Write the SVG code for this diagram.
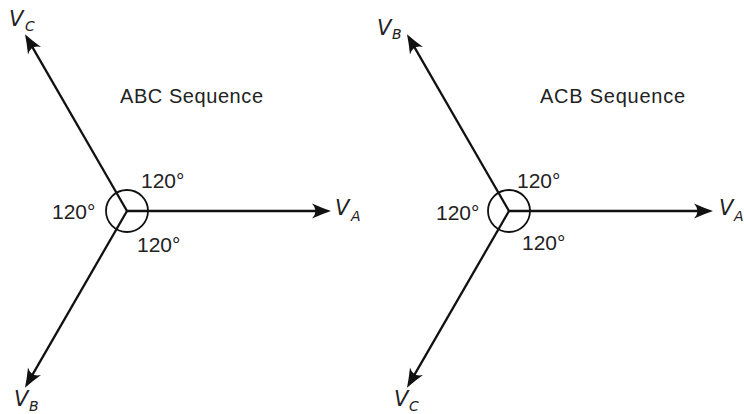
<svg xmlns="http://www.w3.org/2000/svg" width="744" height="414" viewBox="0 0 744 414">
<style>
.ln{stroke:#111;stroke-width:2.3;fill:none}
.ring{stroke:#111;stroke-width:1.8;fill:none}
.v{font-family:"DejaVu Sans","Liberation Sans",sans-serif;font-style:italic;font-size:21px;fill:#222}
.s{font-family:"DejaVu Sans","Liberation Sans",sans-serif;font-style:italic;font-size:14px;fill:#222}
.ang{font-family:"Liberation Sans",Arial,sans-serif;font-size:21px;fill:#222}
.ttl{font-family:"Liberation Sans",Arial,sans-serif;font-size:20px;fill:#222}
</style>
<defs>
<marker id="ah" viewBox="-20 -8 20 16" refX="-9" refY="0" markerWidth="20" markerHeight="16" markerUnits="userSpaceOnUse" orient="auto">
<path d="M0,0 Q-9,-3 -19,-7.5 Q-12,0 -19,7.5 Q-9,3 0,0 Z" fill="#111"/>
</marker>
</defs>
<rect width="744" height="414" fill="#fff"/>
<g id="connectors">
<line class="ln" x1="127" y1="211" x2="322" y2="211" marker-end="url(#ah)"/>
<line class="ln" x1="127" y1="211" x2="29.5" y2="42.1" marker-end="url(#ah)"/>
<line class="ln" x1="127" y1="211" x2="29.5" y2="379.9" marker-end="url(#ah)"/>
<line class="ln" x1="509" y1="211" x2="704" y2="211" marker-end="url(#ah)"/>
<line class="ln" x1="509" y1="211" x2="411.5" y2="42.1" marker-end="url(#ah)"/>
<line class="ln" x1="509" y1="211" x2="411.5" y2="379.9" marker-end="url(#ah)"/>
</g>
<g id="abc">
<circle class="ring" cx="127" cy="211" r="21"/>
<text class="ttl" x="120" y="103" textLength="143" lengthAdjust="spacing">ABC Sequence</text>
<text class="ang" x="141" y="188">120°</text>
<text class="ang" x="52" y="219">120°</text>
<text class="ang" x="137" y="252">120°</text>
<g id="abc-va"><text class="v" x="335" y="215">V</text><text class="s" x="351" y="221">A</text></g>
<g id="abc-vc"><text class="v" x="9" y="26">V</text><text class="s" x="25" y="31">C</text></g>
<g id="abc-vb"><text class="v" x="14" y="406">V</text><text class="s" x="29" y="411">B</text></g>
</g>
<g id="acb">
<circle class="ring" cx="509" cy="211" r="21"/>
<text class="ttl" x="540" y="103" textLength="145" lengthAdjust="spacing">ACB Sequence</text>
<text class="ang" x="517" y="188">120°</text>
<text class="ang" x="436" y="220">120°</text>
<text class="ang" x="522" y="250">120°</text>
<g id="acb-va"><text class="v" x="719" y="215">V</text><text class="s" x="734" y="221">A</text></g>
<g id="acb-vb"><text class="v" x="377" y="35">V</text><text class="s" x="392" y="39">B</text></g>
<g id="acb-vc"><text class="v" x="394" y="406">V</text><text class="s" x="409" y="411">C</text></g>
</g>
</svg>
